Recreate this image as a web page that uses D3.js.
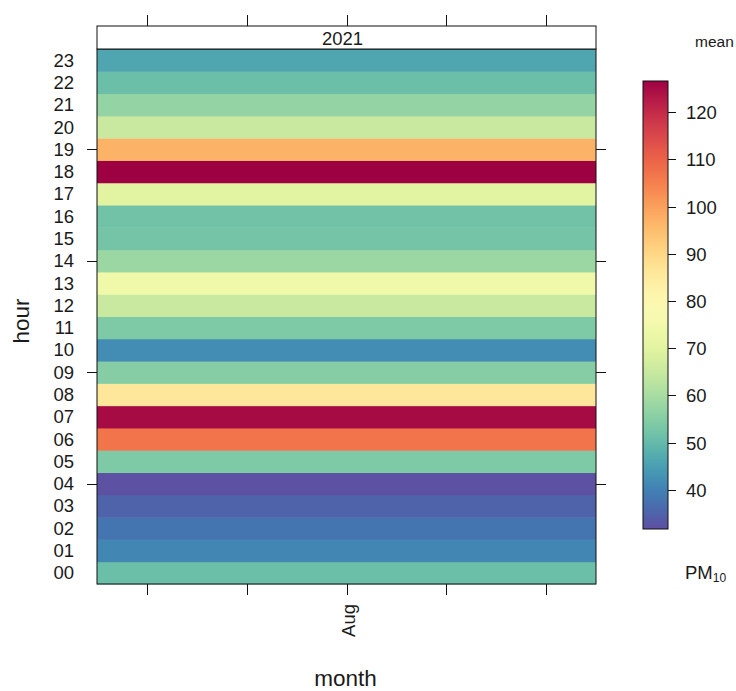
<!DOCTYPE html>
<html>
<head>
<meta charset="utf-8">
<script src="https://cdn.jsdelivr.net/npm/d3@7"></script>
<style>
  html, body { margin: 0; padding: 0; background: #fff; overflow: hidden; }
  text { font-family: "Liberation Sans", Arial, sans-serif; fill: #1a1a1a; }
</style>
</head>
<body>
<svg id="chart" width="736" height="691"></svg>
<script>
// ---- data ----
const hours = ["00","01","02","03","04","05","06","07","08","09","10","11",
               "12","13","14","15","16","17","18","19","20","21","22","23"];
const pm10Mean = [51, 41, 38, 35, 32, 54, 107, 125, 86, 55, 42, 54,
                  65, 74, 58, 52.5, 52, 70, 126.6, 97, 65, 57, 51, 46];
const months = ["Aug"];
const yearLabel = "2021";
const monthTickLabels = ["", "", "Aug", "", ""];
const hourTicks = ["04", "09", "14", "19"];
const colourTicks = [40, 50, 60, 70, 80, 90, 100, 110, 120];
const colourRange = [31.7, 126.6];

// ---- layout ----
const svg = d3.select("#chart");
const L = 97, R = 596, T = 49, B = 584, stripTop = 26;
const FS = 18.5;

const x = d3.scaleBand().domain(months).range([L, R]).padding(0);
const xTicks = d3.scalePoint().domain(d3.range(monthTickLabels.length)).range([L, R]).padding(0.5);
const y = d3.scaleBand().domain(hours).range([B, T]).padding(0);
const colour = d3.scaleSequential(t => d3.interpolateSpectral(1 - t)).domain(colourRange);

// cells
const cells = hours.map((h, i) => ({ month: months[0], hour: h, value: pm10Mean[i] }));
svg.append("g").selectAll("rect").data(cells).join("rect")
  .attr("x", d => x(d.month))
  .attr("y", d => y(d.hour))
  .attr("width", x.bandwidth())
  .attr("height", y.bandwidth() + 0.5)
  .attr("fill", d => colour(d.value));

// panel border
svg.append("rect").attr("x", L).attr("y", T).attr("width", R - L).attr("height", B - T)
  .attr("fill", "none").attr("stroke", "#111").attr("stroke-width", 1);

// strip
svg.append("rect").attr("x", L).attr("y", stripTop).attr("width", R - L).attr("height", T - stripTop)
  .attr("fill", "#fff").attr("stroke", "#111").attr("stroke-width", 1);
svg.append("text").attr("x", (L + R) / 2 - 4).attr("y", (stripTop + T) / 2 + 1)
  .attr("text-anchor", "middle").attr("dominant-baseline", "central")
  .attr("font-size", FS).text(yearLabel);

// x ticks top & bottom
const tickG = svg.append("g").attr("stroke", "#111").attr("stroke-width", 1);
monthTickLabels.forEach((lab, i) => {
  const xp = Math.round(xTicks(i)) + 0.5;
  tickG.append("line").attr("x1", xp).attr("x2", xp).attr("y1", stripTop - 11).attr("y2", stripTop);
  tickG.append("line").attr("x1", xp).attr("x2", xp).attr("y1", B).attr("y2", B + 11);
  if (lab) {
    svg.append("text")
      .attr("transform", `translate(${xp + 7},${B + 20}) rotate(-90)`)
      .attr("text-anchor", "end")
      .attr("font-size", FS).text(lab);
  }
});

// y ticks left & right
hourTicks.forEach(h => {
  const yp = Math.round(y(h) + y.bandwidth() / 2) + 0.5;
  tickG.append("line").attr("x1", L - 10).attr("x2", L).attr("y1", yp).attr("y2", yp);
  tickG.append("line").attr("x1", R).attr("x2", R + 10).attr("y1", yp).attr("y2", yp);
});

// y labels
svg.append("g").selectAll("text").data(hours).join("text")
  .attr("x", 74)
  .attr("y", d => y(d) + y.bandwidth() / 2)
  .attr("text-anchor", "end").attr("dominant-baseline", "central")
  .attr("font-size", FS).text(d => d);

// axis titles
svg.append("text").attr("transform", "translate(29,321) rotate(-90)")
  .attr("text-anchor", "middle").attr("font-size", 22.5).text("hour");
svg.append("text").attr("x", (L + R) / 2 - 1).attr("y", 686)
  .attr("text-anchor", "middle").attr("font-size", 22.5).text("month");

// ---- colour key ----
const kL = 643, kR = 668, kT = 81, kB = 529;
const ky = d3.scaleLinear().domain(colourRange).range([kB, kT]);
const defs = svg.append("defs");
const grad = defs.append("linearGradient").attr("id", "keygrad")
  .attr("x1", 0).attr("y1", 1).attr("x2", 0).attr("y2", 0);
d3.range(0, 1.0001, 0.02).forEach(t => {
  grad.append("stop").attr("offset", t)
    .attr("stop-color", colour(colourRange[0] + t * (colourRange[1] - colourRange[0])));
});
svg.append("rect").attr("x", kL).attr("y", kT).attr("width", kR - kL).attr("height", kB - kT)
  .attr("fill", "url(#keygrad)").attr("stroke", "#111").attr("stroke-width", 1);
colourTicks.forEach(v => {
  const yp = Math.round(ky(v)) + 0.5;
  svg.append("line").attr("x1", kR).attr("x2", kR + 8).attr("y1", yp).attr("y2", yp)
    .attr("stroke", "#111");
  svg.append("text").attr("x", 686).attr("y", yp).attr("dominant-baseline", "central")
    .attr("font-size", FS).text(v);
});
svg.append("text").attr("x", 695).attr("y", 47).attr("font-size", 15.5).text("mean");
const pm = svg.append("text").attr("x", 685).attr("y", 579).attr("font-size", FS);
pm.append("tspan").text("PM");
pm.append("tspan").attr("font-size", 12).attr("dy", 3).text("10");
</script>
</body>
</html>
